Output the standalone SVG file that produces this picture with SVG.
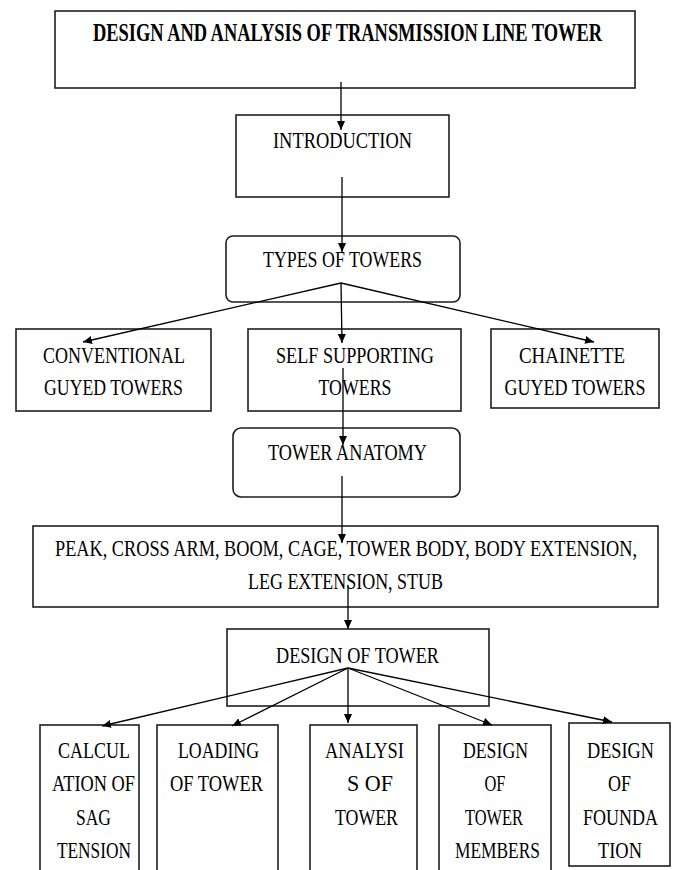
<svg xmlns="http://www.w3.org/2000/svg" width="675" height="870" viewBox="0 0 675 870">
<style>
.b{fill:#fff;stroke:#1e1e1e;stroke-width:1.6}
.t{font-family:'Liberation Serif','Times New Roman','DejaVu Serif',serif;font-size:17.3px;fill:#000;text-anchor:middle}
.tb{font-weight:bold;font-size:18px}
.c{stroke:#000;stroke-width:1.3;fill:none;marker-end:url(#ah)}
</style>
<defs>
<marker id="ah" markerUnits="userSpaceOnUse" markerWidth="10" markerHeight="8" refX="9" refY="4" orient="auto">
<path d="M0,0 L9,4 L0,8 z" fill="#000"/>
</marker>
</defs>
<rect width="675" height="870" fill="#fff"/>
<g id="nodes">
<g id="n-title">
<rect class="b" x="55" y="11" width="580" height="77"/>
<text class="t tb" transform="scale(1,1.389)" x="347.5" y="29.88" textLength="509" lengthAdjust="spacingAndGlyphs">DESIGN AND ANALYSIS OF TRANSMISSION LINE TOWER</text>
</g>
<g id="n-intro">
<rect class="b" x="236" y="115" width="213" height="82"/>
<text class="t" transform="scale(1,1.389)" x="342.5" y="106.55" textLength="139" lengthAdjust="spacingAndGlyphs">INTRODUCTION</text>
</g>
<g id="n-types">
<rect class="b" x="226" y="236" width="234" height="66" rx="7"/>
<text class="t" transform="scale(1,1.389)" x="342.5" y="192.22" textLength="159" lengthAdjust="spacingAndGlyphs">TYPES OF TOWERS</text>
</g>
<g id="n-conv">
<rect class="b" x="16" y="329" width="195" height="82"/>
<g transform="scale(1,1.389)">
<text class="t" x="114" y="261.34" textLength="142" lengthAdjust="spacingAndGlyphs">CONVENTIONAL</text>
<text class="t" x="113.5" y="284.38" textLength="139" lengthAdjust="spacingAndGlyphs">GUYED TOWERS</text>
</g>
</g>
<g id="n-self">
<rect class="b" x="248" y="329" width="213" height="82"/>
<g transform="scale(1,1.389)">
<text class="t" x="355" y="261.34" textLength="158" lengthAdjust="spacingAndGlyphs">SELF SUPPORTING</text>
<text class="t" x="355" y="284.38" textLength="73" lengthAdjust="spacingAndGlyphs">TOWERS</text>
</g>
</g>
<g id="n-chain">
<rect class="b" x="491" y="329" width="168" height="79"/>
<g transform="scale(1,1.389)">
<text class="t" x="572" y="261.34" textLength="106" lengthAdjust="spacingAndGlyphs">CHAINETTE</text>
<text class="t" x="575" y="284.38" textLength="141" lengthAdjust="spacingAndGlyphs">GUYED TOWERS</text>
</g>
</g>
<g id="n-anatomy">
<rect class="b" x="233" y="428" width="227" height="69" rx="8"/>
<text class="t" transform="scale(1,1.389)" x="347.5" y="331.17" textLength="159" lengthAdjust="spacingAndGlyphs">TOWER ANATOMY</text>
</g>
<g id="n-parts">
<rect class="b" x="33" y="526" width="625" height="81"/>
<g transform="scale(1,1.389)">
<text class="t" x="346" y="400.29" textLength="582" lengthAdjust="spacingAndGlyphs">PEAK, CROSS ARM, BOOM, CAGE, TOWER BODY, BODY EXTENSION,</text>
<text class="t" x="345.5" y="424.05" textLength="195" lengthAdjust="spacingAndGlyphs">LEG EXTENSION, STUB</text>
</g>
</g>
<g id="n-design">
<rect class="b" x="227" y="629" width="262" height="77"/>
<text class="t" transform="scale(1,1.389)" x="357.5" y="477.32" textLength="163" lengthAdjust="spacingAndGlyphs">DESIGN OF TOWER</text>
</g>
<g id="n-sag">
<rect class="b" x="40" y="725" width="99" height="160"/>
<g transform="scale(1,1.389)">
<text class="t" x="94" y="545.72" textLength="72" lengthAdjust="spacingAndGlyphs">CALCUL</text>
<text class="t" x="93.5" y="569.47" textLength="83" lengthAdjust="spacingAndGlyphs">ATION OF</text>
<text class="t" x="93.5" y="593.95" textLength="35" lengthAdjust="spacingAndGlyphs">SAG</text>
<text class="t" x="94" y="617.71" textLength="74" lengthAdjust="spacingAndGlyphs">TENSION</text>
</g>
</g>
<g id="n-loading">
<rect class="b" x="157" y="725" width="121" height="160"/>
<g transform="scale(1,1.389)">
<text class="t" x="218.5" y="545.72" textLength="81" lengthAdjust="spacingAndGlyphs">LOADING</text>
<text class="t" x="216.5" y="569.47" textLength="93" lengthAdjust="spacingAndGlyphs">OF TOWER</text>
</g>
</g>
<g id="n-analysis">
<rect class="b" x="310" y="725" width="107" height="160"/>
<g transform="scale(1,1.389)">
<text class="t" x="364.5" y="545.72" textLength="79" lengthAdjust="spacingAndGlyphs">ANALYSI</text>
<text class="t" x="370" y="569.47" textLength="46" lengthAdjust="spacingAndGlyphs">S OF</text>
<text class="t" x="366.5" y="593.95" textLength="63" lengthAdjust="spacingAndGlyphs">TOWER</text>
</g>
</g>
<g id="n-members">
<rect class="b" x="439" y="725" width="112" height="160"/>
<g transform="scale(1,1.389)">
<text class="t" x="495.5" y="545.72" textLength="65" lengthAdjust="spacingAndGlyphs">DESIGN</text>
<text class="t" x="495" y="569.47" textLength="21" lengthAdjust="spacingAndGlyphs">OF</text>
<text class="t" x="494" y="593.95" textLength="58" lengthAdjust="spacingAndGlyphs">TOWER</text>
<text class="t" x="497.5" y="617.71" textLength="85" lengthAdjust="spacingAndGlyphs">MEMBERS</text>
</g>
</g>
<g id="n-foundation">
<rect class="b" x="569" y="723" width="101" height="143"/>
<g transform="scale(1,1.389)">
<text class="t" x="620.5" y="545.72" textLength="67" lengthAdjust="spacingAndGlyphs">DESIGN</text>
<text class="t" x="619.5" y="569.47" textLength="23" lengthAdjust="spacingAndGlyphs">OF</text>
<text class="t" x="620.5" y="593.95" textLength="75" lengthAdjust="spacingAndGlyphs">FOUNDA</text>
<text class="t" x="620" y="617.71" textLength="44" lengthAdjust="spacingAndGlyphs">TION</text>
</g>
</g>
</g>
<g id="connectors">
<line class="c" x1="341" y1="82" x2="341" y2="130"/>
<line class="c" x1="342" y1="177" x2="342" y2="252"/>
<line class="c" x1="341" y1="283" x2="83" y2="342"/>
<line class="c" x1="341" y1="283" x2="342" y2="343"/>
<line class="c" x1="341" y1="283" x2="594" y2="342"/>
<line class="c" x1="343" y1="368" x2="343" y2="445"/>
<line class="c" x1="342" y1="476" x2="342" y2="543"/>
<line class="c" x1="348" y1="585" x2="348" y2="629"/>
<line class="c" x1="348" y1="668" x2="102" y2="726"/>
<line class="c" x1="348" y1="668" x2="232" y2="726"/>
<line class="c" x1="348" y1="668" x2="348" y2="723"/>
<line class="c" x1="348" y1="668" x2="492" y2="725"/>
<line class="c" x1="348" y1="668" x2="612" y2="722"/>
</g>
</svg>
